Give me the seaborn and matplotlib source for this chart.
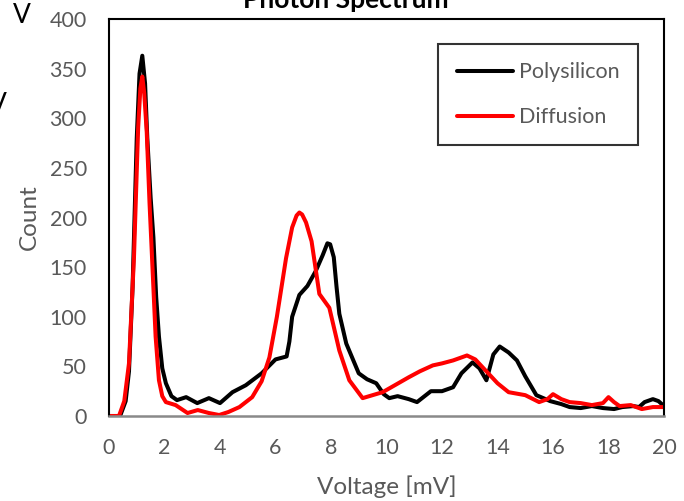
import matplotlib
matplotlib.use("Agg")
import matplotlib.pyplot as plt
import seaborn as sns
import pandas as pd

# ---- data ----
poly_x = [0.0, 0.4, 0.6, 0.72, 0.85, 1.0, 1.1, 1.2, 1.3, 1.38, 1.5, 1.6, 1.7, 1.8, 1.92, 2.05,
          2.25, 2.45, 2.78, 3.18, 3.6, 4.0, 4.45, 4.93, 5.5, 6.0, 6.4, 6.5, 6.6, 6.86, 7.15,
          7.45, 7.7, 7.87, 7.97, 8.1, 8.2, 8.3, 8.55, 9.0, 9.3, 9.63, 9.9, 10.1, 10.4, 10.8,
          11.1, 11.6, 12.0, 12.4, 12.7, 13.1, 13.35, 13.6, 13.85, 14.08, 14.4, 14.7, 15.0,
          15.4, 15.9, 16.3, 16.6, 17.0, 17.4, 17.8, 18.2, 18.5, 18.9, 19.1, 19.3, 19.6,
          19.8, 20.0]
poly_y = [0, 0, 15, 45, 130, 280, 345, 363, 335, 280, 220, 180, 120, 80, 48, 33,
          20, 16, 19, 13, 18, 13, 24, 31, 43, 57, 60, 75, 100, 122, 131,
          146, 162, 174, 173, 160, 130, 103, 73, 43, 37, 33, 22, 18, 20, 17,
          14, 25, 25, 29, 43, 54, 48, 36, 62, 70, 64, 56, 40,
          21, 15, 12, 9, 8, 10, 8, 7, 9, 10, 9, 14, 17,
          15, 10]

diff_x = [0.0, 0.36, 0.55, 0.72, 0.9, 1.05, 1.13, 1.2, 1.27, 1.36, 1.46, 1.56, 1.68, 1.8,
          1.92, 2.05, 2.4, 2.83, 3.2, 3.6, 3.97, 4.3, 4.7, 5.16, 5.5, 5.78, 6.05, 6.38,
          6.6, 6.76, 6.86, 6.96, 7.1, 7.3, 7.58, 7.94, 8.3, 8.66, 9.14, 9.5, 9.86, 10.3,
          10.8, 11.2, 11.67, 12.0, 12.4, 12.9, 13.2, 13.5, 14.0, 14.4, 15.0, 15.5, 15.8,
          16.0, 16.3, 16.6, 17.0, 17.4, 17.8, 18.0, 18.2, 18.4, 18.8, 19.2, 19.6, 20.0]
diff_y = [0, 0, 15, 53, 160, 290, 330, 342, 325, 286, 215, 154, 80, 36,
          20, 14, 11, 3, 6, 3, 1, 4, 9, 19, 35, 59, 100, 159,
          190, 202, 205, 203, 195, 176, 123, 109, 66, 36, 18, 21, 24, 31,
          39, 45, 51, 53, 56, 61, 57, 48, 33, 24, 21, 14, 17,
          22, 17, 14, 13, 11, 13, 19, 14, 10, 11, 7, 9, 9]

series_names = ["Polysilicon", "Diffusion"]
x_ticks = list(range(0, 21, 2))
y_ticks = list(range(0, 401, 50))

df = pd.concat([
    pd.DataFrame({"Voltage": poly_x, "Count": poly_y, "Series": series_names[0]}),
    pd.DataFrame({"Voltage": diff_x, "Count": diff_y, "Series": series_names[1]}),
])

sns.set_theme(style="white")
plt.rcParams["font.family"] = ["Lato", "DejaVu Sans"]

grey = "#595959"
fig = plt.figure(figsize=(6.84, 5.01), dpi=100)
ax = fig.add_axes([109 / 684, 1 - 416 / 501, (664 - 109) / 684, (416 - 19) / 501])

sns.lineplot(data=df, x="Voltage", y="Count", hue="Series", sort=False, estimator=None,
             palette={"Polysilicon": "black", "Diffusion": "#ff0000"},
             linewidth=2.9, ax=ax, legend=True)
for ln in ax.lines:
    ln.set_solid_joinstyle("round")
    ln.set_solid_capstyle("round")

ax.set_xlim(0, 20)
ax.set_ylim(0, 400)
ax.set_xticks(x_ticks)
ax.set_yticks(y_ticks)
ax.tick_params(axis="both", length=0, labelsize=15.5, colors=grey)
ax.tick_params(axis="x", pad=16)
ax.tick_params(axis="y", pad=16)
ax.set_xlabel("Voltage [mV]", fontsize=17.5, color=grey, labelpad=12)
ax.set_ylabel("Count", fontsize=17.5, color=grey, labelpad=7)

for s in ["left", "top", "right"]:
    ax.spines[s].set_color("black")
    ax.spines[s].set_linewidth(1.5)
ax.spines["bottom"].set_color("#898989")
ax.spines["bottom"].set_linewidth(1.8)

leg = ax.legend(loc="upper right", bbox_to_anchor=((638 - 109) / 555, (416 - 44) / 397),
                fontsize=15.5, frameon=True, fancybox=False, handlelength=2.6,
                handletextpad=0.3, labelspacing=1.15, borderpad=0.85, borderaxespad=0)
leg.get_frame().set_edgecolor("black")
leg.get_frame().set_linewidth(1.5)
for t in leg.get_texts():
    t.set_color(grey)

fig.text(346 / 684, 1 - 8 / 501, "Photon Spectrum", ha="center", va="baseline",
         fontsize=19, fontweight="bold", color="black")
fig.text(22 / 684, 1 - 23 / 501, "V", ha="center", va="baseline", fontsize=19, color="black")
fig.text(-2 / 684, 1 - 112 / 501, "V", ha="center", va="baseline", fontsize=19, color="black")

fig.savefig("out.png", dpi=100)
